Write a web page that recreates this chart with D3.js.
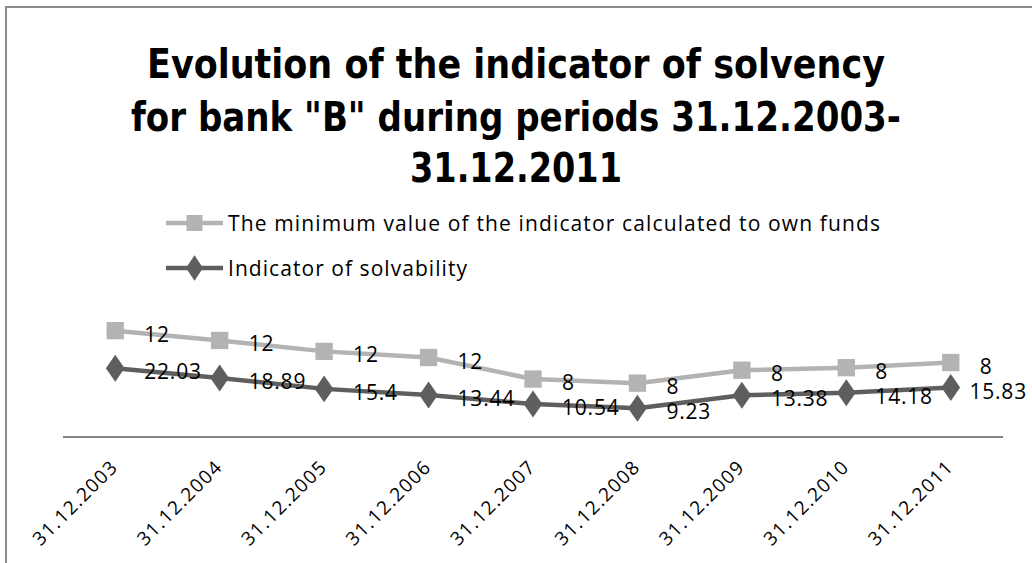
<!DOCTYPE html>
<html>
<head>
<meta charset="utf-8">
<script src="https://cdn.jsdelivr.net/npm/d3@7"></script>
<style>
  html, body { margin: 0; padding: 0; background: #fff; }
  svg { display: block; }
</style>
</head>
<body>
<svg id="chart" width="1032" height="563"></svg>
<script>
const categories = ["31.12.2003","31.12.2004","31.12.2005","31.12.2006","31.12.2007","31.12.2008","31.12.2009","31.12.2010","31.12.2011"];
const solvency = [22.03, 18.89, 15.4, 13.44, 10.54, 9.23, 13.38, 14.18, 15.83];
const minimum = [12, 12, 12, 12, 8, 8, 8, 8, 8];
const seriesNames = ["The minimum value of the indicator calculated to own funds", "Indicator of solvability"];
const titleLines = ["Evolution of the indicator of solvency", "for bank \"B\" during periods 31.12.2003-", "31.12.2011"];

const svg = d3.select("#chart");
const LIGHT = "#b3b3b3", DARK = "#5e5e5e";

// frame (extends beyond the viewport on right and bottom)
svg.append("rect").attr("x", 6).attr("y", 7).attr("width", 1200).attr("height", 800)
  .attr("fill", "none").attr("stroke", "#8a8a8a").attr("stroke-width", 2);

// title
const titleY = [78, 131, 182];
const titleW = [738, 770, 212];
svg.append("g").selectAll("text").data(titleLines).join("text")
  .attr("x", 516).attr("y", (d, i) => titleY[i])
  .attr("text-anchor", "middle")
  .attr("font-family", "'Liberation Sans Narrow', 'DejaVu Sans Condensed', 'Liberation Sans', sans-serif")
  .attr("font-weight", "bold").attr("font-size", 41)
  .attr("textLength", (d, i) => titleW[i]).attr("lengthAdjust", "spacingAndGlyphs")
  .attr("fill", "#000").text(d => d);

// scales
const x = d3.scalePoint().domain(categories).range([63, 1003]).padding(0.5);
const y = d3.scaleLinear().domain([0, 40]).range([437, 312]);

// stacked data
const stack = d3.stack().keys(["solv", "min"]);
const rows = categories.map((c, i) => ({ cat: c, solv: solvency[i], min: minimum[i] }));
const stacked = stack(rows);
const dark = stacked[0].map((s, i) => ({ cat: categories[i], top: s[1], label: solvency[i] }));
const light = stacked[1].map((s, i) => ({ cat: categories[i], top: s[1], label: minimum[i] }));

// x axis
const xAxis = d3.axisBottom(x).tickSize(0).tickFormat("");
const ax = svg.append("g").attr("transform", `translate(0,${y(0)})`).call(xAxis);
ax.select(".domain").attr("stroke", "#868686").attr("stroke-width", 2)
  .attr("d", `M63,0H1003`);

svg.append("g").selectAll("text").data(categories).join("text")
  .attr("transform", d => `translate(${x(d) + 3},469) rotate(-45)`)
  .attr("text-anchor", "end")
  .attr("font-family", "'Open Sans', sans-serif").attr("font-size", 19)
  .attr("textLength", 110).attr("lengthAdjust", "spacing")
  .attr("fill", "#000").text(d => d);

// lines
const line = d3.line().x(d => x(d.cat)).y(d => y(d.top));
svg.append("path").datum(light).attr("d", line).attr("fill", "none")
  .attr("stroke", LIGHT).attr("stroke-width", 4.5).attr("stroke-linejoin", "round");
svg.append("path").datum(dark).attr("d", line).attr("fill", "none")
  .attr("stroke", DARK).attr("stroke-width", 4.5).attr("stroke-linejoin", "round");

const sq = d3.symbol().type(d3.symbolSquare).size(300);
const dia = d3.symbol().type(d3.symbolDiamond).size(210);
svg.append("g").selectAll("path").data(light).join("path")
  .attr("transform", d => `translate(${x(d.cat)},${y(d.top)})`)
  .attr("d", sq).attr("fill", LIGHT);
svg.append("g").selectAll("path").data(dark).join("path")
  .attr("transform", d => `translate(${x(d.cat)},${y(d.top)}) scale(1.2,1)`)
  .attr("d", dia).attr("fill", DARK);

// data labels
function labels(data) {
  const g = svg.append("g");
  g.selectAll("text").data(data).join("text")
    .attr("x", d => x(d.cat) + 29).attr("y", d => y(d.top) + 11)
    .attr("font-family", "'Open Sans', sans-serif").attr("font-size", 21)
    .attr("letter-spacing", 0.8)
    .attr("fill", "#000").text(d => d.label)
    .each(function () {
      const bb = this.getBBox();
      if (bb.x + bb.width > 1027) {
        d3.select(this).attr("x", +d3.select(this).attr("x") - (bb.x + bb.width - 1027));
      }
    });
}
labels(light);
labels(dark);

// legend
const legY = [223, 268];
const legW = [652, 239];
const leg = svg.append("g");
seriesNames.forEach((name, i) => {
  const col = i === 0 ? LIGHT : DARK;
  leg.append("line").attr("x1", 166).attr("x2", 223).attr("y1", legY[i]).attr("y2", legY[i])
    .attr("stroke", col).attr("stroke-width", 4.5);
  leg.append("path").attr("transform", `translate(194.5,${legY[i]})` + (i === 1 ? " scale(1.15,1)" : ""))
    .attr("d", i === 0 ? d3.symbol().type(d3.symbolSquare).size(256)() : d3.symbol().type(d3.symbolDiamond).size(190)())
    .attr("fill", col);
  leg.append("text").attr("x", 228).attr("y", legY[i] + 8)
    .attr("font-family", "'Open Sans', sans-serif").attr("font-size", 21)
    .attr("textLength", legW[i]).attr("lengthAdjust", "spacing")
    .attr("fill", "#000").text(name);
});
</script>
</body>
</html>
